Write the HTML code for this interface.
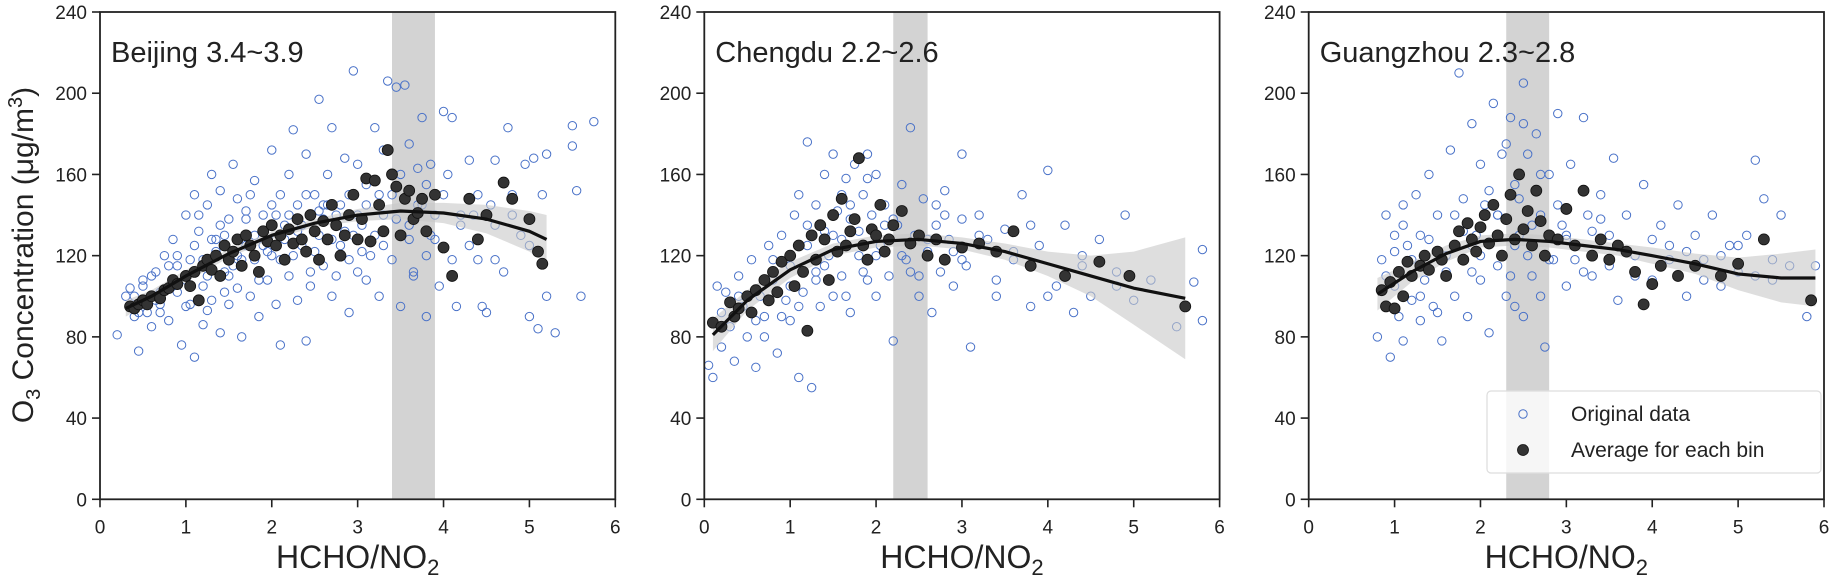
<!DOCTYPE html>
<html><head><meta charset="utf-8"><style>
html,body{margin:0;padding:0;background:#fff}
svg{display:block;font-family:"Liberation Sans",Arial,sans-serif}
</style></head><body>
<svg id="chart" width="1832" height="576" viewBox="0 0 1832 576" xmlns="http://www.w3.org/2000/svg">
<text transform="translate(33,255) rotate(-90)" text-anchor="middle" font-size="30" fill="#222">O<tspan font-size="20" dy="7">3</tspan><tspan dy="-7"> Concentration (μg/m</tspan><tspan font-size="20" dy="-11">3</tspan><tspan dy="11">)</tspan></text>
</svg>
<script>
const xTicks=[0,1,2,3,4,5,6];
const yTicks=[0,40,80,120,160,200,240];
const titles=["Beijing 3.4~3.9","Chengdu 2.2~2.6","Guangzhou 2.3~2.8"];
const ranges=[[3.4,3.9],[2.2,2.6],[2.3,2.8]];
const open1X=[0.2,0.3,0.35,0.4,0.45,0.5,0.55,0.6,0.65,0.7,0.75,0.8,0.85,0.9,0.95,1.0,1.0,1.05,1.1,1.1,1.15,1.2,1.2,1.25,1.3,1.3,1.35,1.4,1.4,1.45,1.5,1.5,1.55,1.6,1.6,1.65,1.7,1.7,1.75,1.8,1.8,1.85,1.9,1.95,2.0,2.0,2.05,2.1,2.1,2.15,2.2,2.2,2.25,2.3,2.3,2.35,2.4,2.4,2.45,2.5,2.55,2.55,2.6,2.65,2.7,2.7,2.75,2.8,2.85,2.9,2.9,2.95,3.0,3.0,3.05,3.1,3.15,3.2,3.25,3.3,3.3,3.35,3.4,3.45,3.5,3.5,3.55,3.6,3.6,3.65,3.7,3.75,3.75,3.8,3.8,3.85,3.9,3.95,4.0,4.05,4.1,4.15,4.2,4.3,4.3,4.4,4.5,4.55,4.6,4.7,4.75,4.8,4.9,4.95,5.0,5.05,5.1,5.15,5.2,5.2,5.5,5.5,5.55,5.6,5.75,5.3,4.45,1.25,0.9,2.6,3.1,2.05,1.45,0.7,3.9,4.6];
const open1Y=[81,100,104,90,73,108,92,85,112,96,120,88,128,102,76,140,95,118,70,150,132,86,105,145,160,98,122,82,152,112,138,96,165,104,148,80,125,142,100,157,118,90,140,108,172,120,96,150,76,135,160,110,182,98,145,125,170,78,105,150,197,130,115,160,183,100,140,125,168,92,150,211,112,165,135,145,120,183,100,172,140,206,118,203,160,95,204,175,135,110,163,188,145,90,120,165,140,105,191,160,188,95,135,125,167,150,92,145,167,112,183,140,130,165,90,168,84,150,100,170,184,174,152,100,186,82,95,93,115,145,108,140,130,92,128,118];
const open1bX=[0.4,0.5,0.6,0.7,0.8,0.9,1.0,1.1,1.2,1.3,1.4,1.5,1.6,1.7,1.8,1.9,2.0,2.1,2.2,2.3,2.4,2.5,2.6,2.7,2.8,2.9,3.0,3.1,3.2,3.3,3.4,3.6,3.7,3.8,4.0,4.2,4.4,4.6,4.8,5.0,0.45,0.65,0.85,1.05,1.25,1.45,1.65,1.85,2.05,2.25,2.45,2.65,2.85,3.05,3.25,3.45,3.65,3.85,4.1,4.35,1.15,1.35,1.55,1.75,1.95,2.15,2.35,2.55,2.75,2.95];
const open1bY=[100,105,110,102,115,120,108,125,118,128,135,110,120,138,130,125,145,118,140,132,150,122,138,128,145,118,140,155,130,125,150,128,145,155,150,140,118,135,150,125,92,98,105,96,110,102,118,108,128,120,112,145,132,122,150,138,112,130,118,140,140,128,115,150,122,128,135,142,110,130];
const avg1X=[0.35,0.4,0.45,0.5,0.55,0.6,0.7,0.75,0.8,0.85,0.9,1.0,1.05,1.1,1.15,1.2,1.25,1.3,1.35,1.4,1.45,1.5,1.55,1.6,1.65,1.7,1.75,1.8,1.85,1.9,1.95,2.0,2.05,2.1,2.15,2.2,2.25,2.3,2.35,2.4,2.45,2.5,2.55,2.6,2.65,2.7,2.75,2.8,2.85,2.9,2.95,3.0,3.05,3.1,3.15,3.2,3.25,3.3,3.35,3.4,3.45,3.5,3.55,3.6,3.65,3.7,3.75,3.8,3.9,4.0,4.1,4.3,4.4,4.5,4.7,4.8,5.0,5.1,5.15];
const avg1Y=[95,94,96,98,96,100,99,103,104,108,106,110,105,112,98,115,118,113,120,110,125,118,122,128,115,130,125,120,112,132,127,135,125,130,118,133,126,138,128,122,140,132,118,137,128,145,135,120,130,140,150,128,138,158,127,157,145,132,172,160,154,130,148,152,138,141,148,132,150,124,110,148,128,140,156,148,138,122,116];
const open2X=[0.05,0.1,0.15,0.2,0.25,0.3,0.35,0.4,0.45,0.5,0.55,0.6,0.65,0.7,0.75,0.8,0.85,0.9,0.95,1.0,1.0,1.05,1.1,1.1,1.15,1.2,1.2,1.25,1.3,1.3,1.35,1.4,1.4,1.45,1.5,1.5,1.55,1.6,1.6,1.65,1.7,1.7,1.75,1.8,1.85,1.9,1.9,1.95,2.0,2.0,2.05,2.1,2.15,2.2,2.25,2.3,2.35,2.4,2.45,2.5,2.55,2.6,2.65,2.7,2.75,2.8,2.85,2.9,3.0,3.0,3.05,3.1,3.2,3.3,3.4,3.5,3.6,3.7,3.8,3.9,4.0,4.1,4.2,4.3,4.4,4.5,4.6,4.8,4.9,5.0,5.2,5.5,5.6,5.7,5.8,5.8];
const open2Y=[66,60,105,75,102,85,68,110,95,80,118,65,100,90,125,108,72,130,98,115,88,140,60,150,102,176,125,55,145,112,95,160,132,120,170,100,142,128,110,158,92,138,165,120,150,108,170,140,100,160,125,145,110,78,135,155,118,183,130,100,148,122,92,135,112,152,128,105,170,138,115,75,140,128,100,133,118,150,95,125,162,105,135,92,120,100,128,112,140,98,108,85,95,107,123,88];
const open2bX=[0.2,0.4,0.6,0.8,1.0,1.2,1.4,1.6,1.8,2.0,2.2,2.4,2.6,2.8,3.0,3.2,3.4,3.6,3.8,4.0,4.4,4.8,1.1,1.3,1.5,1.7,1.9,2.1,2.3,2.5,2.7,2.9,0.7,0.9,1.65,1.85];
const open2bY=[92,100,88,118,105,135,115,150,132,120,138,112,128,140,118,130,108,122,135,100,115,105,95,108,130,145,158,135,120,110,145,122,80,90,100,112];
const avg2X=[0.1,0.2,0.3,0.35,0.4,0.5,0.55,0.6,0.7,0.75,0.8,0.85,0.9,1.0,1.05,1.1,1.15,1.2,1.25,1.3,1.35,1.4,1.45,1.5,1.55,1.6,1.65,1.7,1.75,1.8,1.85,1.9,1.95,2.0,2.05,2.1,2.15,2.2,2.3,2.4,2.5,2.6,2.7,2.8,3.0,3.2,3.4,3.6,3.8,4.2,4.6,4.95,5.6];
const avg2Y=[87,85,97,90,94,100,92,103,108,98,112,102,117,120,105,125,112,83,130,118,135,128,108,140,122,148,125,132,138,168,125,118,133,130,145,122,128,135,142,126,130,120,128,118,124,126,122,132,115,110,117,110,95];
const open3X=[0.8,0.85,0.9,0.95,1.0,1.0,1.05,1.1,1.1,1.15,1.2,1.25,1.3,1.3,1.35,1.4,1.45,1.5,1.55,1.6,1.65,1.7,1.75,1.8,1.85,1.9,1.95,2.0,2.0,2.05,2.1,2.15,2.2,2.25,2.3,2.35,2.4,2.45,2.5,2.5,2.55,2.6,2.65,2.7,2.75,2.8,2.85,2.9,2.95,3.0,3.05,3.1,3.2,3.25,3.3,3.4,3.5,3.55,3.6,3.7,3.8,3.9,4.0,4.1,4.2,4.3,4.4,4.5,4.6,4.7,4.8,4.9,5.0,5.1,5.2,5.3,5.4,5.5,5.6,5.8,5.9,2.2,1.9,2.7,3.0,2.4];
const open3Y=[80,118,140,70,130,105,90,145,78,125,98,150,88,130,108,160,95,140,78,120,172,100,210,148,90,185,130,108,165,145,82,195,115,170,100,188,125,148,205,90,170,110,180,140,75,160,118,190,135,105,165,125,188,140,110,150,130,168,98,140,120,155,108,135,125,145,100,130,118,140,105,125,112,130,167,148,108,140,115,90,115,140,112,100,128,95];
const open3bX=[0.9,1.0,1.1,1.2,1.4,1.6,1.8,2.0,2.2,2.4,2.6,2.8,3.0,3.2,3.4,3.6,3.8,4.0,4.2,4.4,4.6,4.8,5.0,5.2,5.4,1.3,1.5,1.7,1.9,2.1,2.3,2.5,2.7,2.9,3.1,3.3,3.5,2.35,2.55,2.45];
const open3bY=[110,122,135,118,128,112,132,120,140,155,135,118,130,112,138,125,110,128,118,122,108,120,125,110,118,100,92,140,125,152,175,185,160,145,118,132,115,110,120,130];
const avg3X=[0.85,0.9,0.95,1.0,1.05,1.1,1.15,1.2,1.3,1.35,1.4,1.5,1.55,1.6,1.7,1.75,1.8,1.85,1.9,1.95,2.0,2.05,2.1,2.15,2.2,2.25,2.3,2.35,2.4,2.45,2.5,2.55,2.6,2.65,2.7,2.75,2.8,2.9,3.0,3.1,3.2,3.3,3.4,3.5,3.6,3.7,3.8,3.9,4.0,4.1,4.3,4.5,4.8,5.0,5.3,5.85];
const avg3Y=[103,95,107,94,112,100,117,110,115,120,113,122,118,110,125,132,118,136,128,122,134,140,126,145,130,120,138,150,128,160,133,142,125,152,137,120,130,128,143,125,152,120,128,118,125,122,112,96,106,115,110,115,110,116,128,98];
const fit1X=[0.3,0.6,1,1.5,2,2.5,3,3.5,4,4.5,5,5.2];
const fit1Y=[94,100,110,121,130,136,140,142,141,138,132,128];
const ci1=[4,3,3,2,2,2,3,4,5,7,10,12];
const fit2X=[0.1,0.5,1,1.5,2,2.5,3,3.5,4,4.5,5,5.6];
const fit2Y=[81,98,113,123,127,128,126,122,116,110,104,99];
const ci2=[8,5,4,3,3,3,3,4,6,10,18,30];
const fit3X=[0.8,1.2,1.6,2,2.4,2.8,3.2,3.6,4,4.5,5,5.5,5.9];
const fit3Y=[101,112,121,127,128,127,125,123,120,116,111,109,109];
const ci3=[8,5,4,3,3,3,3,3,4,5,8,12,14];

const NS="http://www.w3.org/2000/svg";
const svg=document.getElementById('chart');
function mk(tag,attrs,parent){const e=document.createElementNS(NS,tag);for(const k in attrs)e.setAttribute(k,attrs[k]);(parent||svg).appendChild(e);return e;}
const lefts=[100,704.3,1308.7];
const W=515.3, TOP=12, BOT=499.3;
const panels=[
 {ox:open1X.concat(open1bX),oy:open1Y.concat(open1bY),ax:avg1X,ay:avg1Y,fx:fit1X,fy:fit1Y,ci:ci1},
 {ox:open2X.concat(open2bX),oy:open2Y.concat(open2bY),ax:avg2X,ay:avg2Y,fx:fit2X,fy:fit2Y,ci:ci2},
 {ox:open3X.concat(open3bX),oy:open3Y.concat(open3bY),ax:avg3X,ay:avg3Y,fx:fit3X,fy:fit3Y,ci:ci3}];
const defs=mk('defs',{});
panels.forEach((p,i)=>{
 const L=lefts[i];
 const X=v=>L+v/6*W;
 const Y=v=>BOT-v/240*(BOT-TOP);
 const cp=mk('clipPath',{id:'clip'+i},defs);
 mk('rect',{x:L,y:TOP,width:W,height:BOT-TOP},cp);
 const g=mk('g',{'clip-path':'url(#clip'+i+')'});
 
 
 const band=mk('rect',{x:X(ranges[i][0]),y:TOP,width:X(ranges[i][1])-X(ranges[i][0]),height:BOT-TOP,fill:'#d3d3d3'},g);
 
 
 const og=mk('g',{},g);
 
 
 p.ox.forEach((x,j)=>{const c=mk('circle',{cx:X(x),cy:Y(p.oy[j]),r:4.2,fill:'none',stroke:'#4a72c8','stroke-width':1},og);
  
  });
 let up='',lo='';
 p.fx.forEach((x,j)=>{up+=(j?'L':'M')+X(x)+','+Y(p.fy[j]+p.ci[j]);});
 for(let j=p.fx.length-1;j>=0;j--){lo+='L'+X(p.fx[j])+','+Y(p.fy[j]-p.ci[j]);}
 const ci=mk('path',{d:up+lo+'Z',fill:'#c8c8c8','fill-opacity':0.6,stroke:'none'},g);
 
 
 const ag=mk('g',{},g);
 
 
 p.ax.forEach((x,j)=>{const c=mk('circle',{cx:X(x),cy:Y(p.ay[j]),r:5.5,fill:'#333',stroke:'#111','stroke-width':0.8},ag);
  
  });
 let d='';
 p.fx.forEach((x,j)=>{d+=(j?'L':'M')+X(x)+','+Y(p.fy[j]);});
 const fl=mk('path',{d:d,fill:'none',stroke:'#111','stroke-width':3.2,'stroke-linejoin':'round'},g);
 
 
 const fr=mk('rect',{x:L,y:TOP,width:W,height:BOT-TOP,fill:'none',stroke:'#222','stroke-width':1.8});
 
 
 xTicks.forEach(t=>{
  mk('line',{x1:X(t),x2:X(t),y1:BOT,y2:BOT+8,stroke:'#222','stroke-width':1.6});
  const tx=mk('text',{x:X(t),y:BOT+34,'text-anchor':'middle','font-size':19,fill:'#222'});
  tx.textContent=t;
  
  });
 yTicks.forEach(t=>{
  mk('line',{x1:L-8,x2:L,y1:Y(t),y2:Y(t),stroke:'#222','stroke-width':1.6});
  const tx=mk('text',{x:L-13,y:Y(t)+7,'text-anchor':'end','font-size':19,fill:'#222'});
  tx.textContent=t;
  
  });
 const ti=mk('text',{x:L+11,y:62,'font-size':29,fill:'#222'});
 ti.textContent=titles[i];
 
 
 const xl=mk('text',{x:L+W/2,y:568,'text-anchor':'middle','font-size':32,fill:'#222'});
 xl.innerHTML='HCHO/NO<tspan font-size="22" dy="7">2</tspan>';
 
 
});
const lg=mk('g',{});


mk('rect',{x:1487,y:391,width:334,height:82,rx:4,fill:'#fff','fill-opacity':0.8,stroke:'#ddd','stroke-width':1.2},lg);
const lo=mk('circle',{cx:1523,cy:414,r:4.2,fill:'none',stroke:'#4a72c8','stroke-width':1},lg);


const l1=mk('text',{x:1571,y:421,'font-size':21,fill:'#222'},lg);
l1.textContent='Original data';


const la=mk('circle',{cx:1523,cy:450,r:5.5,fill:'#333',stroke:'#111','stroke-width':0.8},lg);


const l2=mk('text',{x:1571,y:457,'font-size':21,fill:'#222'},lg);
l2.textContent='Average for each bin';


</script>
</body></html>
